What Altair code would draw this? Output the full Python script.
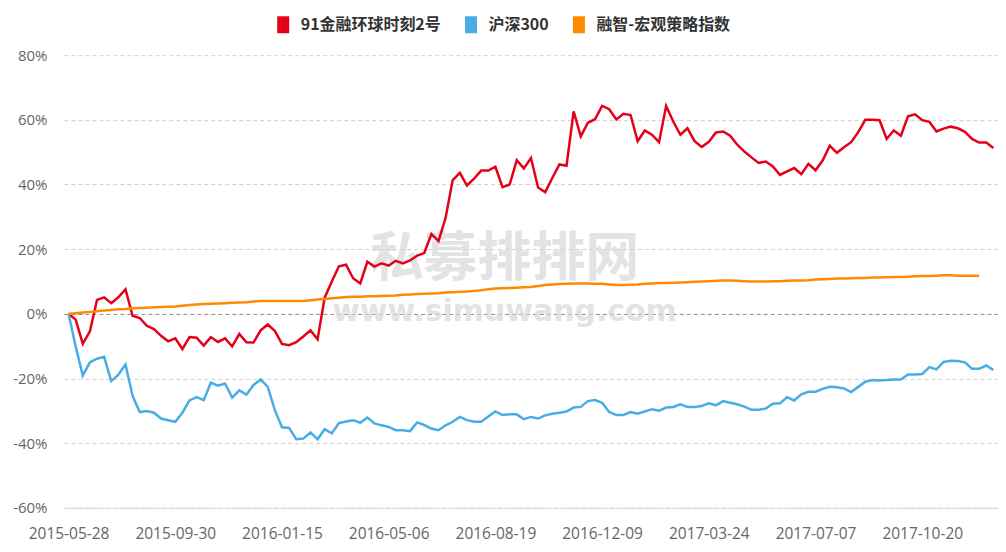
import altair as alt
import pandas as pd

series_names = ["91金融环球时刻2号", "沪深300", "融智-宏观策略指数"]
series_colors = ["#e50019", "#48ade6", "#ff8a00"]

x_tick_index = [0, 15, 30, 45, 60, 75, 90, 105, 120]
x_tick_labels = ["2015-05-28", "2015-09-30", "2016-01-15", "2016-05-06", "2016-08-19",
                 "2016-12-09", "2017-03-24", "2017-07-07", "2017-10-20"]
y_ticks = [-60, -40, -20, 0, 20, 40, 60, 80]

fund = [0, -1.8, -9.3, -5.4, 4.3, 5.1, 3.3, 5.1, 7.6, -0.6,
        -1.3, -3.7, -4.7, -6.8, -8.5, -7.6, -10.9, -7.2, -7.4, -9.8,
        -7.2, -8.7, -7.6, -10.1, -6.2, -8.8, -8.9, -5.1, -3.3, -5.3,
        -9.3, -9.7, -8.8, -7.0, -5.1, -7.9, 5.0, 10.0, 14.7, 15.2,
        11.0, 9.4, 16.1, 14.6, 15.6, 14.9, 16.4, 15.6, 16.5, 18.0,
        18.8, 24.7, 22.5, 29.7, 41.4, 43.6, 39.7, 41.8, 44.3, 44.3,
        45.5, 39.2, 40.0, 47.5, 45.0, 48.2, 39.1, 37.6, 42.0, 46.2,
        45.8, 62.6, 54.9, 59.1, 60.2, 64.3, 63.3, 60.1, 61.9, 61.5,
        53.4, 56.7, 55.4, 53.1, 64.3, 59.5, 55.4, 57.4, 53.4, 51.6,
        53.2, 56.1, 56.4, 55.1, 52.3, 50.2, 48.4, 46.7, 47.1, 45.6,
        43.0, 44.1, 45.1, 43.2, 46.4, 44.4, 47.4, 52.0, 49.8, 51.5,
        53.1, 56.2, 60.0, 60.0, 59.9, 54.1, 56.7, 55.1, 61.1, 61.7,
        59.9, 59.4, 56.4, 57.3, 57.9, 57.4, 56.3, 54.1, 53.0, 53.0,
        51.3]

hs300 = [0, -10.1, -19.1, -15.0, -13.9, -13.3, -20.8, -18.8, -15.7, -25.4,
         -30.4, -30.1, -30.6, -32.4, -32.9, -33.4, -30.6, -26.8, -25.8, -26.7,
         -21.3, -22.2, -21.6, -25.9, -23.7, -25.0, -22.0, -20.3, -22.6, -29.8,
         -35.1, -35.3, -38.8, -38.6, -36.7, -38.8, -35.7, -37.0, -33.8, -33.3,
         -32.9, -33.7, -32.1, -33.9, -34.5, -35.0, -36.0, -36.0, -36.3, -33.6,
         -34.4, -35.5, -36.0, -34.5, -33.4, -31.9, -32.9, -33.4, -33.4, -31.8,
         -30.2, -31.3, -31.1, -31.1, -32.6, -31.9, -32.4, -31.4, -30.9, -30.6,
         -30.2, -29.0, -28.8, -27.0, -26.7, -27.5, -30.4, -31.3, -31.3, -30.4,
         -30.9, -30.2, -29.5, -30.0, -29.0, -28.8, -28.0, -28.8, -28.8, -28.5,
         -27.7, -28.3, -27.0, -27.5, -28.0, -28.7, -29.7, -29.7, -29.3, -27.8,
         -27.7, -25.8, -26.8, -24.9, -24.1, -24.1, -23.2, -22.6, -22.7, -23.1,
         -24.2, -22.6, -21.0, -20.5, -20.6, -20.5, -20.3, -20.3, -18.8, -18.8,
         -18.6, -16.5, -17.2, -14.9, -14.5, -14.6, -15.0, -17.0, -17.0, -16.0,
         -17.4]

macro = [0.0, 0.2, 0.4, 0.6, 0.8, 1.0, 1.2, 1.4, 1.5, 1.7,
         1.8, 1.9, 2.0, 2.1, 2.2, 2.3, 2.5, 2.7, 2.9, 3.0,
         3.1, 3.2, 3.3, 3.4, 3.5, 3.6, 3.8, 4.0, 4.0, 4.0,
         4.0, 4.0, 4.0, 4.0, 4.2, 4.4, 4.6, 4.8, 5.0, 5.2,
         5.3, 5.3, 5.4, 5.4, 5.5, 5.6, 5.7, 5.9, 6.0, 6.1,
         6.2, 6.3, 6.4, 6.6, 6.7, 6.8, 6.9, 7.1, 7.3, 7.6,
         7.8, 7.9, 8.0, 8.1, 8.2, 8.3, 8.6, 8.9, 9.1, 9.2,
         9.3, 9.4, 9.4, 9.4, 9.3, 9.3, 9.1, 8.9, 8.9, 9.0,
         9.1, 9.3, 9.4, 9.5, 9.5, 9.6, 9.7, 9.8, 9.9, 10.0,
         10.1, 10.2, 10.3, 10.3, 10.2, 10.1, 10.0, 10.0, 10.0, 10.1,
         10.1, 10.2, 10.3, 10.3, 10.4, 10.6, 10.7, 10.8, 10.9, 10.9,
         11.0, 11.1, 11.1, 11.2, 11.2, 11.3, 11.4, 11.4, 11.5, 11.6,
         11.7, 11.7, 11.8, 11.9, 11.9, 11.8, 11.8, 11.8, 11.8]

watermark_big = "私募排排网"
watermark_small = "www.simuwang.com"

rows = []
for name, vals in zip(series_names, [fund, hs300, macro]):
    for i, v in enumerate(vals):
        rows.append({"idx": i, "value": v, "series": name, "order": series_names.index(name)})
df = pd.DataFrame(rows)

label_expr = "[" + ",".join("'" + s + "'" for s in x_tick_labels) + "][round(datum.value / 15)]"

x_enc = alt.X(
    "idx:Q",
    scale=alt.Scale(domain=[-0.65, 130.65], nice=False, zero=False),
    axis=alt.Axis(values=x_tick_index, labelExpr=label_expr, grid=False, ticks=False,
                  domain=True, domainColor="#d9d9d9", domainWidth=1,
                  labelFontSize=15.5, labelColor="#666666", labelFont="Open Sans",
                  labelPadding=19, labelFlush=False, title=None),
)
y_enc = alt.Y(
    "value:Q",
    scale=alt.Scale(domain=[-60, 80], nice=False, zero=False),
    axis=alt.Axis(values=y_ticks, labelExpr="datum.value + '%'", grid=True,
                  gridDash=[4, 3],
                  gridColor={"condition": {"test": "datum.value === 0", "value": "#8c8c8c"},
                             "value": "#d0d0d0"},
                  gridWidth=1, ticks=False, domain=False,
                  labelFontSize=15, labelColor="#666666", labelFont="Open Sans",
                  labelPadding=17, title=None),
)

wm_df = pd.DataFrame({"big": [watermark_big], "small": [watermark_small]})
wm1 = alt.Chart(wm_df).mark_text(
    font="Noto Sans CJK SC", fontSize=54, fontWeight="bold", color="#d8d8d8", opacity=0.7
).encode(x=alt.value(441), y=alt.value(205), text="big:N")
wm2 = alt.Chart(wm_df).mark_text(
    font="DejaVu Sans", fontSize=30, fontWeight="bold", color="#d8d8d8", opacity=0.7
).encode(x=alt.value(441), y=alt.value(257), text="small:N")

lines = alt.Chart(df).mark_line(strokeWidth=2.5, interpolate="linear").encode(
    x=x_enc,
    y=y_enc,
    color=alt.Color(
        "series:N",
        scale=alt.Scale(domain=series_names, range=series_colors),
        sort=series_names,
        legend=alt.Legend(orient="none", legendX=205, legendY=-45, direction="horizontal",
                          title=None, symbolType="M0,-1L0,1", symbolSize=289,
                          symbolStrokeWidth=12, labelFontSize=16, labelFontWeight="bold",
                          labelFont="Noto Sans CJK SC", labelColor="#333333",
                          labelOffset=3, columnPadding=5, padding=0),
    ),
    order="order:Q",
)

chart = alt.layer(wm1, wm2, lines).properties(
    width=935, height=453,
    autosize=alt.AutoSizeParams(type="none"),
    padding={"left": 56, "top": 47, "right": 0, "bottom": 36},
).configure(background="white").configure_view(stroke=None)

chart.save("out.html", embed_options={"renderer": "svg", "actions": False})
